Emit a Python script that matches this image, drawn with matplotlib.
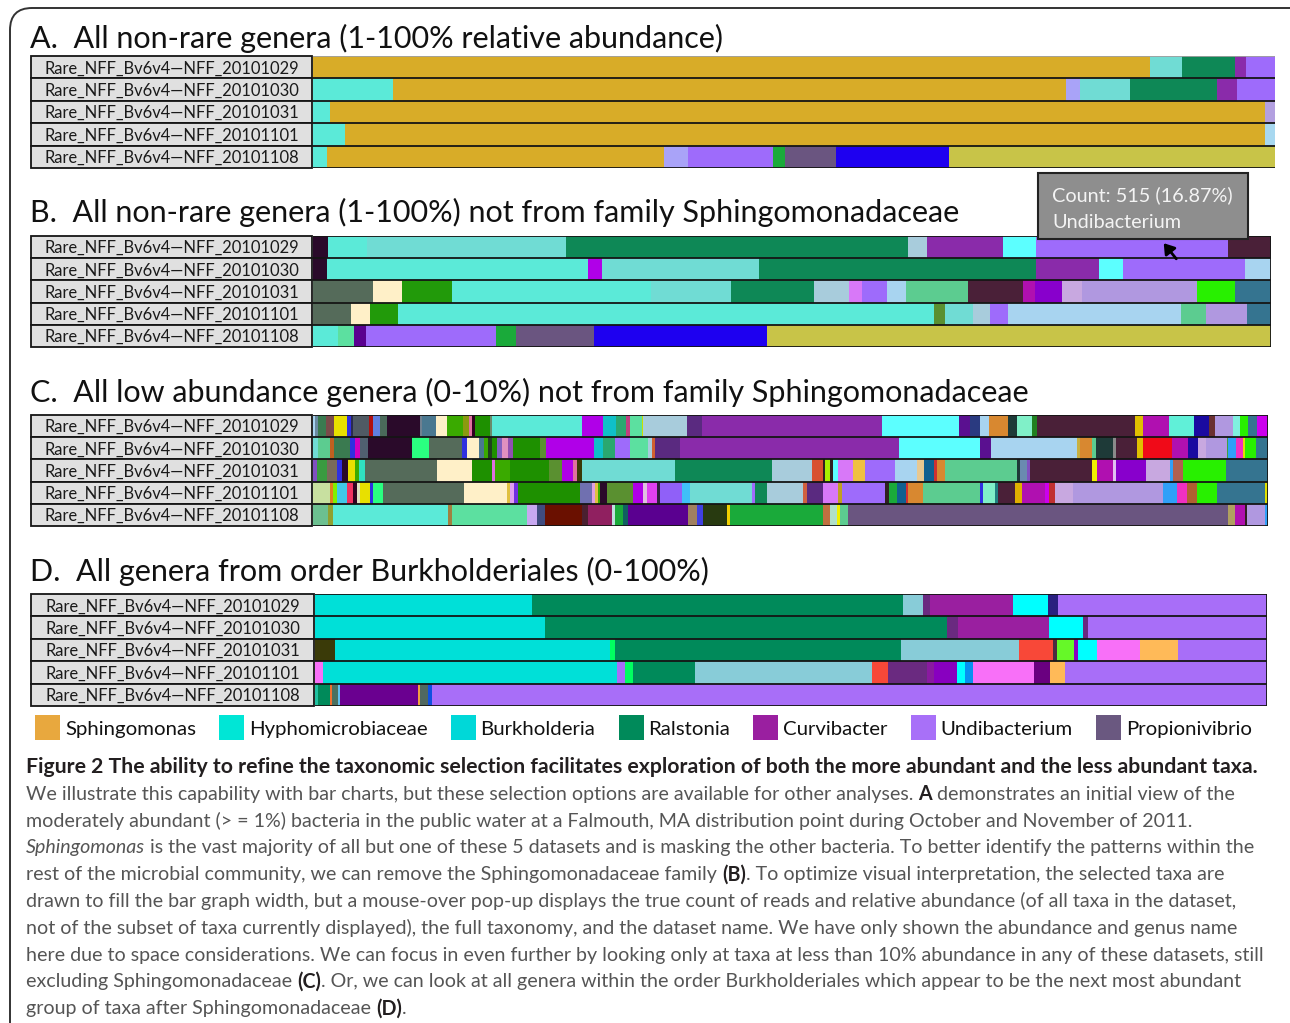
import matplotlib
matplotlib.use("Agg")
import matplotlib.pyplot as plt
from matplotlib.patches import Rectangle, FancyBboxPatch, FancyArrowPatch
from matplotlib.transforms import IdentityTransform
import numpy as np

W, H = 1290, 1023
FONT = ["Lato", "DejaVu Sans"]
plt.rcParams["font.family"] = FONT

# ---------------- data ----------------
datasets = ["Rare_NFF_Bv6v4\u2014NFF_20101029", "Rare_NFF_Bv6v4\u2014NFF_20101030",
            "Rare_NFF_Bv6v4\u2014NFF_20101031", "Rare_NFF_Bv6v4\u2014NFF_20101101",
            "Rare_NFF_Bv6v4\u2014NFF_20101108"]

titles = ["A.  All non-rare genera (1-100% relative abundance)",
          "B.  All non-rare genera (1-100%) not from family Sphingomonadaceae",
          "C.  All low abundance genera (0-10%) not from family Sphingomonadaceae",
          "D.  All genera from order Burkholderiales (0-100%)"]

# Panel A: relative widths of each genus segment per dataset
a_values = [
    [837, 32, 53, 11, 29],
    [80, 673, 14, 50, 87, 20, 38],
    [17, 935, 10],
    [32, 920, 10],
    [14, 337, 24, 85, 12, 51, 113, 326],
]
a_colors = [
    ["#D8AC28", "#70DCD4", "#0E8856", "#8A2BAA", "#9E6BFB"],
    ["#5BEAD8", "#D8AC28", "#A9A3F8", "#70DCD4", "#0E8856", "#8A2BAA", "#9E6BFB"],
    ["#5BEAD8", "#D8AC28", "#B3A0E0"],
    ["#5BEAD8", "#D8AC28", "#A8D8F0"],
    ["#5BEAD8", "#D8AC28", "#A9A3F8", "#9E6BFB", "#1AAA3A", "#6A5580", "#1E00F0", "#C8C448"],
]

# Panel B
b_values = [
    [15, 39, 199, 342, 19, 76, 33, 192, 43],
    [14, 261, 14, 157, 277, 63, 24, 122, 26],
    [60, 29, 50, 199, 80, 83, 35, 13, 25, 19, 62, 55, 12, 27, 20, 115, 38, 36],
    [38, 19, 28, 536, 11, 28, 17, 18, 173, 25, 41, 24],
    [25, 16, 12, 130, 20, 78, 173, 504],
]
b_colors = [
    ["#2A0A2A", "#5BEAD8", "#70DCD4", "#0E8856", "#A8CCDC", "#8A2BAA", "#5CFFFF", "#9E6BFB", "#4A2038"],
    ["#2A0A2A", "#5BEAD8", "#B000E8", "#70DCD4", "#0E8856", "#8A2BAA", "#5CFFFF", "#9E6BFB", "#A8D4F0"],
    ["#556B5A", "#FFF0C8", "#229A0A", "#5BEAD8", "#70DCD4", "#0E8856", "#A8CCDC", "#D878F8", "#9E6BFB",
     "#A8D4F0", "#5CCC90", "#4A2038", "#B010B0", "#8800CC", "#C8A8E0", "#B098E0", "#28F000", "#357490"],
    ["#556B5A", "#FFF0C8", "#229A0A", "#5BEAD8", "#5A9030", "#70DCD4", "#A8CCDC", "#9E6BFB", "#A8D4F0",
     "#5CCC90", "#B098E0", "#357490"],
    ["#5BEAD8", "#5CE0A0", "#5A0090", "#9E6BFB", "#1AAA3A", "#6A5580", "#1E00F0", "#C8C448"],
]

# Panel C
c_values = [
    [2, 3, 8, 8, 13, 4, 2, 16, 4, 7, 7, 33, 2, 14, 11, 16, 6, 3, 3, 15, 2, 90, 21, 13, 10, 4, 12, 1, 44, 15,
     180, 77, 11, 10, 9, 19, 9, 15, 5, 98, 8, 26, 25, 15, 6, 18, 7, 8, 9, 11],
    [5, 12, 4, 16, 5, 5, 8, 44, 17, 33, 5, 12, 5, 4, 4, 5, 5, 6, 5, 27, 6, 48, 9, 12, 15, 18, 4, 3, 25, 219,
     81, 11, 86, 3, 12, 4, 17, 3, 21, 6, 29, 16, 10, 8, 21, 1, 8, 7, 2, 11, 12],
    [4, 10, 10, 5, 6, 7, 4, 6, 72, 35, 20, 3, 15, 39, 13, 11, 4, 5, 93, 97, 40, 11, 2, 5, 3, 5, 15, 12, 30,
     22, 7, 10, 3, 8, 72, 3, 7, 3, 62, 5, 16, 3, 30, 24, 3, 10, 43, 42],
    [17, 3, 4, 10, 6, 4, 3, 10, 3, 10, 81, 43, 3, 4, 4, 62, 12, 3, 3, 2, 7, 26, 10, 4, 10, 3, 22, 8, 62, 3,
     12, 36, 4, 16, 15, 4, 43, 4, 8, 9, 2, 15, 57, 3, 12, 3, 17, 7, 23, 4, 6, 18, 90, 14, 10, 10, 20, 48, 3],
    [15, 5, 115, 4, 75, 10, 8, 37, 6, 24, 3, 8, 5, 60, 9, 6, 24, 3, 93, 7, 7, 3, 8, 380, 7, 10, 2, 18, 3],
]
c_colors = [
    ["#A8D4F0", "#6A8AA0", "#3A7A50", "#7A4A4A", "#E8E000", "#3030E0", "#2A2A50", "#505A64", "#B01010",
     "#6080E0", "#4A6A5A", "#2A0A2A", "#708090", "#4A7890", "#FFF0C8", "#3AAA00", "#8A9A10", "#E070A0",
     "#300020", "#1E9000", "#6A8A6A", "#5BEAD8", "#B000E8", "#10C0C8", "#2AA870", "#C04080", "#5CE0A0",
     "#C8E000", "#A8CCDC", "#5A2A80", "#8A2BAA", "#5CFFFF", "#5A1090", "#2A3A80", "#A8D4F0", "#D88830",
     "#1E3A38", "#80F0C8", "#208020", "#4A2038", "#E0C000", "#B010B0", "#60F0D8", "#1A0AA0", "#6A3030",
     "#B098E0", "#80F0E0", "#28F000", "#357490", "#CC00EE"],
    ["#70DCD4", "#5CCC90", "#C06020", "#3A7A50", "#3030E0", "#D000C0", "#506070", "#2A0A2A", "#2AFF80",
     "#556B5A", "#3030E0", "#FFF0C8", "#4A7890", "#3AAA00", "#204020", "#1E9000", "#8060C0", "#E090C0",
     "#9050B0", "#1E9000", "#5A9030", "#B000E8", "#10C0C8", "#2AA870", "#9E6BFB", "#5CE0A0", "#A8CCDC",
     "#D06030", "#5A2A80", "#8A2BAA", "#5CFFFF", "#5A1090", "#A8D4F0", "#C8B040", "#D88830", "#5CCC90",
     "#1E3A38", "#8A8A8A", "#4A2038", "#E0C000", "#F00A18", "#B010B0", "#1A0AA0", "#C8A8E0", "#B098E0",
     "#40A040", "#30A0F8", "#F030C0", "#E0E000", "#28F000", "#357490"],
    ["#8050C0", "#3A9A40", "#7A6A5A", "#3030E0", "#2A0A2A", "#E8E000", "#3AAA00", "#30E0C0", "#556B5A",
     "#FFF0C8", "#1E9000", "#E070E0", "#3AAA00", "#1E9000", "#5A9030", "#B000E8", "#E070A0", "#3A3A08",
     "#70DCD4", "#0E8856", "#A8CCDC", "#D85030", "#302020", "#A8F000", "#302020", "#5CFFFF", "#D878F8",
     "#F0C040", "#9E6BFB", "#A8D4F0", "#E8C890", "#106090", "#D03030", "#D88830", "#5CCC90", "#1E3A38",
     "#6A8AB0", "#8050C0", "#4A2038", "#F0F000", "#B010B0", "#E0C0F0", "#8800CC", "#C8A8E0", "#30A0F8",
     "#B06050", "#28F000", "#357490"],
    ["#C8E0A0", "#E08020", "#80F000", "#40C8E8", "#F03060", "#300020", "#E0E0C0", "#E8E000", "#3030E0",
     "#2AFF80", "#556B5A", "#FFF0C8", "#E0C040", "#E0A0F0", "#7030E0", "#1E9000", "#7070B0", "#E0A0E0",
     "#E0C040", "#3AAA00", "#2A0A2A", "#5A9030", "#B000E8", "#E0C0E0", "#E040F0", "#302040", "#9060F8",
     "#40C0F8", "#70DCD4", "#9E6BFB", "#0E8856", "#A8CCDC", "#D06040", "#5A2A80", "#D878F8", "#C0A020",
     "#9E6BFB", "#302020", "#1AAA3A", "#106090", "#D03030", "#D88830", "#5CCC90", "#3030E0", "#80F0C8",
     "#208080", "#4A2038", "#E0B000", "#B010B0", "#CC00EE", "#C03030", "#C8A8E0", "#B098E0", "#30A0F8",
     "#F030C0", "#B06030", "#28F000", "#357490", "#E0E000"],
    ["#6CC090", "#90A030", "#5BEAD8", "#A08040", "#5CE0A0", "#C8A8F0", "#404C80", "#6A1000", "#4A2030",
     "#902060", "#C0E0E0", "#1AAA3A", "#106060", "#5A0090", "#A08060", "#4040E0", "#283A10", "#F0D000",
     "#1AAA3A", "#C07040", "#B0E0C8", "#F0F000", "#5CCC90", "#6A5580", "#B0A060", "#B010B0", "#302020",
     "#B098E0", "#30A0F8"],
]

# Panel D
d_values = [
    [217, 371, 20, 7, 83, 35, 10, 209],
    [230, 402, 11, 91, 34, 5, 179],
    [20, 275, 5, 286, 118, 34, 4, 17, 4, 19, 43, 38, 89],
    [8, 294, 8, 8, 62, 177, 16, 39, 7, 23, 8, 8, 61, 16, 15, 202],
    [3, 12, 2, 6, 2, 78, 2, 8, 4, 835],
]
d_colors = [
    ["#00E0D8", "#008A5A", "#88CCD8", "#6A2A80", "#9A1FA0", "#00FFFF", "#2A2080", "#A86EF8"],
    ["#00E0D8", "#008A5A", "#6A2A80", "#9A1FA0", "#00FFFF", "#6A2A80", "#A86EF8"],
    ["#3A3A08", "#00E0D8", "#00FF60", "#008A5A", "#88CCD8", "#F84838", "#4A2A40", "#66F828", "#8800C0",
     "#00FFFF", "#F870F8", "#FFBA58", "#A86EF8"],
    ["#F870F8", "#00E0D8", "#A86EF8", "#00FF60", "#008A5A", "#88CCD8", "#F84838", "#6A2A80", "#8A1AA0",
     "#8800C0", "#00FFFF", "#0890F0", "#F870F8", "#6A0080", "#FFBA58", "#A86EF8"],
    ["#20C0A0", "#008A5A", "#F07030", "#4A7060", "#60C0F0", "#6A0090", "#F0A040", "#506860", "#1050E0",
     "#A86EF8"],
]

legend_names = ["Sphingomonas", "Hyphomicrobiaceae", "Burkholderia", "Ralstonia",
                "Curvibacter", "Undibacterium", "Propionivibrio"]
legend_colors = ["#E8A83E", "#00E6D6", "#00D8D8", "#008A5A", "#9A1FA0", "#A870F8", "#6A5880"]

tooltip_lines = ["Count: 515 (16.87%)", "Undibacterium"]

caption_runs = [
    [("Figure 2 The ability to refine the taxonomic selection facilitates exploration of both the more "
      "abundant and the less abundant taxa.", "bold", "normal")],
    [("We illustrate this capability with bar charts, but these selection options are available for other "
      "analyses. ", "normal", "normal"), ("A", "bold", "normal"),
     (" demonstrates an initial view of the", "normal", "normal")],
    [("moderately abundant (> = 1%) bacteria in the public water at a Falmouth, MA distribution point during "
      "October and November of 2011.", "normal", "normal")],
    [("Sphingomonas", "normal", "italic"),
     (" is the vast majority of all but one of these 5 datasets and is masking the other bacteria. To better "
      "identify the patterns within the", "normal", "normal")],
    [("rest of the microbial community, we can remove the Sphingomonadaceae family ", "normal", "normal"),
     ("(B)", "bold", "normal"),
     (". To optimize visual interpretation, the selected taxa are", "normal", "normal")],
    [("drawn to fill the bar graph width, but a mouse-over pop-up displays the true count of reads and relative "
      "abundance (of all taxa in the dataset,", "normal", "normal")],
    [("not of the subset of taxa currently displayed), the full taxonomy, and the dataset name. We have only "
      "shown the abundance and genus name", "normal", "normal")],
    [("here due to space considerations. We can focus in even further by looking only at taxa at less than 10% "
      "abundance in any of these datasets, still", "normal", "normal")],
    [("excluding Sphingomonadaceae ", "normal", "normal"), ("(C)", "bold", "normal"),
     (". Or, we can look at all genera within the order Burkholderiales which appear to be the next most "
      "abundant", "normal", "normal")],
    [("group of taxa after Sphingomonadaceae ", "normal", "normal"), ("(D)", "bold", "normal"),
     (".", "normal", "normal")],
]

# ---------------- figure ----------------
fig = plt.figure(figsize=(W / 100, H / 100), dpi=100)
fig.patch.set_facecolor("white")
renderer = fig.canvas.get_renderer()


def fx(px):
    return px / W


def fy(py):
    return 1 - py / H


def text_width(s, size, weight="normal", style="normal"):
    t = fig.text(0, 0, s, fontsize=size, fontweight=weight, fontstyle=style)
    w = t.get_window_extent(renderer).width
    t.remove()
    return w


def fit_size(s, target, weight="normal", base=12.0):
    return base * target / text_width(s, base, weight)


# outer rounded frame
frame = FancyBboxPatch((10, -120), 1320, H - 8 + 120, boxstyle="round,pad=0,rounding_size=22",
                       transform=IdentityTransform(), fill=False, ec="#333333", lw=1.4)
fig.add_artist(frame)

title_size = fit_size(titles[0], 693)
label_size = fit_size(datasets[0], 254)

panels = [
    (a_values, a_colors, 313, 1275, 56, 168, 48, False),
    (b_values, b_colors, 313, 1271, 236, 347, 222, True),
    (c_values, c_colors, 313, 1268, 415, 526, 402, True),
    (d_values, d_colors, 315, 1267, 594, 706, 581, True),
]

for (vals, cols, x0, x1, y0, y1, ty, boxed), title in zip(panels, titles):
    fig.text(fx(30), fy(ty), title, fontsize=title_size, va="baseline", ha="left", color="#111111")
    # bars
    ax = fig.add_axes([fx(x0), fy(y1), (x1 - x0) / W, (y1 - y0) / H])
    for i, (v, c) in enumerate(zip(vals, cols)):
        v = np.asarray(v, dtype=float)
        frac = v / v.sum()
        lefts = np.concatenate([[0], np.cumsum(frac)[:-1]])
        ax.barh(np.full(len(frac), i + 0.5), frac, left=lefts, height=1.0, color=c,
                linewidth=0, antialiased=False)
    ax.set_xlim(0, 1)
    ax.set_ylim(len(vals), 0)
    ax.axis("off")
    for k in range(1, len(vals) + 1):
        ax.axhline(k, color="#151515", lw=1.3)
    if boxed:
        ax.axhline(0, color="#151515", lw=1.3)
        ax.axvline(1, color="#151515", lw=1.3)
    else:
        ax.axhline(0, color="#A0A0A0", lw=1.3)
    # label boxes
    axl = fig.add_axes([fx(30), fy(y1), (x0 - 30) / W, (y1 - y0) / H])
    axl.set_xlim(0, 1)
    axl.set_ylim(len(vals), 0)
    axl.axis("off")
    for i, name in enumerate(datasets):
        axl.add_patch(Rectangle((0.003, i), 0.994, 1, fc="#E0E0E0", ec="#151515", lw=1.3, clip_on=False))
        axl.text(0.5, i + 0.55, name, ha="center", va="center", fontsize=label_size, color="#1A1A1A")

# tooltip
tip = Rectangle((1038, H - 239), 210, 66, transform=IdentityTransform(), fc="#8E8E8E", ec="#222222", lw=1.5)
fig.add_artist(tip)
tip_size = fit_size(tooltip_lines[0], 180)
fig.text(fx(1052), fy(201), tooltip_lines[0], fontsize=tip_size, color="#F4F4F4", va="baseline")
fig.text(fx(1052), fy(228), tooltip_lines[1], fontsize=tip_size, color="#F4F4F4", va="baseline")
arrow = FancyArrowPatch((1178, H - 261), (1162, H - 241), transform=IdentityTransform(),
                        arrowstyle="-|>,head_length=6,head_width=4", color="black", lw=2.0)
fig.add_artist(arrow)

# legend
leg_size = fit_size(legend_names[0], 130)
x = 35
for name, col in zip(legend_names, legend_colors):
    fig.add_artist(Rectangle((x, H - 740), 25, 25, transform=IdentityTransform(), fc=col, ec="none"))
    t = fig.text(fx(x + 30), fy(728), name, fontsize=leg_size, va="center_baseline", ha="left",
                 color="#111111")
    w = t.get_window_extent(renderer).width
    x = x + 30 + w + 23

# caption
bold_size = fit_size(caption_runs[0][0][0], 1227, weight="bold")
body_plain = "".join(r[0] for r in caption_runs[1])
body_size = fit_size(body_plain, 1202)
space_w = text_width("x x", body_size) - text_width("xx", body_size)

baselines = [773 + 26.8 * k for k in range(len(caption_runs))]
for li, (runs, yb) in enumerate(zip(caption_runs, baselines)):
    x = 26
    for s, weight, style in runs:
        size = bold_size if li == 0 else body_size
        color = "#231F20" if (weight == "bold") else "#555555"
        lead = len(s) - len(s.lstrip(" "))
        trail = len(s) - len(s.rstrip(" "))
        core = s.strip(" ")
        x += lead * space_w
        t = fig.text(fx(x), fy(yb), core, fontsize=size, fontweight=weight, fontstyle=style,
                     color=color, va="baseline", ha="left")
        x += t.get_window_extent(renderer).width + trail * space_w

fig.savefig("out.png", dpi=100)
